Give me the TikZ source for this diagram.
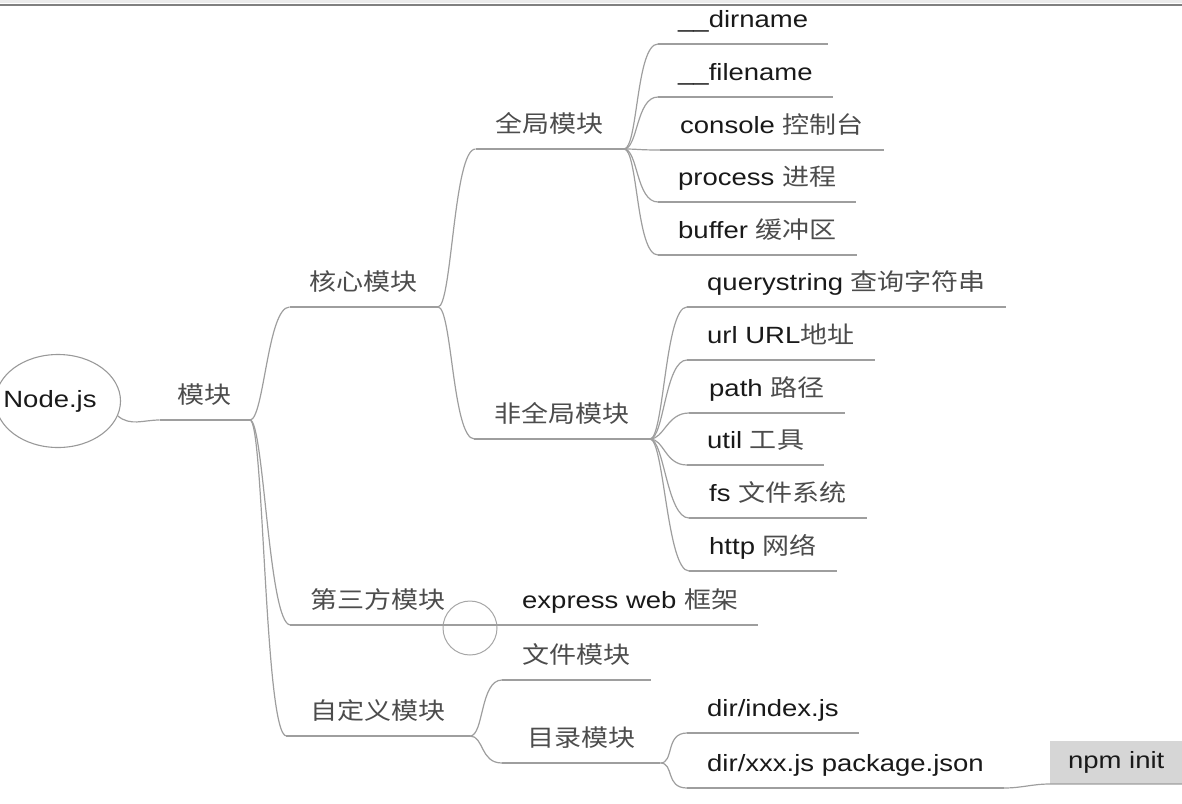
\documentclass[tikz,border=0pt]{standalone}
\usepackage{fontspec}
\setmainfont{Liberation Sans}[FakeStretch=1.17]
\newfontfamily\cjk{Noto Sans CJK SC}[FakeStretch=1.15]
\newcommand{\zh}[1]{{\cjk\color{black!70}#1}}
\usetikzlibrary{positioning, shapes.geometric}

\begin{document}
\begin{tikzpicture}[x=1pt, y=-1pt,
    edge/.style={draw=black!38, line width=1.2pt},
    fork/.style={to path={.. controls +(14,0) and +(-22,0) .. (\tikztotarget)}},
    leaf/.style={anchor=south west, inner xsep=20pt, inner ysep=10.5pt, text height=18pt, text depth=5.5pt,
        font=\fontsize{23.5}{27}\selectfont, text=black!90},
    hub/.style={leaf, anchor=south east},
    root/.style={ellipse, draw=black!40, line width=1.1pt, minimum width=125pt, minimum height=93pt,
        inner sep=0pt, font=\fontsize{23.5}{27}\selectfont, text=black!90}]
    \useasboundingbox (0,0) rectangle (1182,803);
    \fill[black!8] (0,0) rectangle (1182,3);
    \draw[black!50, line width=2pt] (0,5) -- (1182,5);

    \node[root] (nodejs) at (58,401) {\hspace*{-16pt}Node.js};
    \node[hub, inner xsep=18pt] (mk) at (250,420) {\zh{模块}};
    \node[hub] (hx) at (438,307) {\zh{核心模块}};
    \node[hub] (dsf) at (466,625) {\zh{第三方模块}};
    \node[hub, inner xsep=24pt] (zdy) at (470,736) {\zh{自定义模块}};
    \node[hub] (qj) at (624,149) {\zh{全局模块}};
    \node[hub] (fqj) at (650,439) {\zh{非全局模块}};
    % global modules
    \node[leaf] (dn) at (658,44) {\_\_dirname};
    \node[leaf] (fn) at (658,97) {\_\_filename};
    \node[leaf] (cs) at (660,150) {console \zh{控制台}};
    \node[leaf] (pr) at (658,202) {process \zh{进程}};
    \node[leaf] (bf) at (658,255) {buffer \zh{缓冲区}};
    % non-global modules
    \node[leaf] (qs) at (687,307) {querystring \zh{查询字符串}};
    \node[leaf] (url) at (687,360) {url URL\zh{地址}};
    \node[leaf] (pa) at (689,413) {path \zh{路径}};
    \node[leaf] (ut) at (687,465) {util \zh{工具}};
    \node[leaf] (fs) at (689,518) {fs \zh{文件系统}};
    \node[leaf] (ht) at (689,571) {http \zh{网络}};
    % third party
    \node[leaf] (ex) at (502,625) {express web \zh{框架}};
    % custom modules
    \node[leaf] (wj) at (502,680) {\zh{文件模块}};
    \node[leaf, minimum width=158pt] (ml) at (502,763) {\zh{目录模块}};
    \node[leaf] (di) at (687,733) {dir/index.js};
    \node[leaf] (dx) at (687,788) {dir/xxx.js package.json};
    \node[anchor=south west, fill=black!16, minimum width=132pt, minimum height=43pt,
        font=\fontsize{23.5}{27}\selectfont, text=black!90] (npm) at (1050,784) {npm init};
    \node[circle, draw=black!35, line width=1pt, minimum size=54pt, inner sep=0pt] (ring) at (470,628) {};

    \foreach \n in {mk,hx,dsf,zdy,qj,fqj,dn,fn,cs,pr,bf,qs,url,pa,ut,fs,ht,ex,wj,ml,di,dx} {
    \draw[edge] (\n.south west) -- (\n.south east);
    }
    \draw[edge] (nodejs.-14) to[out=-40, in=180] (mk.south west);
    \foreach \c in {hx,dsf,zdy} {
    \draw[edge] (mk.south east) to[fork] (\c.south west);
    }
    \foreach \c in {qj,fqj} {
    \draw[edge] (hx.south east) to[fork] (\c.south west);
    }
    \foreach \c in {dn,fn,cs,pr,bf} {
    \draw[edge] (qj.south east) to[fork] (\c.south west);
    }
    \foreach \c in {qs,url,pa,ut,fs,ht} {
    \draw[edge] (fqj.south east) to[fork] (\c.south west);
    }
    \foreach \c in {wj,ml} {
    \draw[edge] (zdy.south east) to[fork] (\c.south west);
    }
    \foreach \c in {di,dx} {
    \draw[edge] (ml.south east) to[fork] (\c.south west);
    }
    \draw[edge] (dsf.south east) -- (ex.south west);
    \draw[edge] (dx.south east) to[out=0, in=180] (npm.south west) -- (npm.south east);
\end{tikzpicture}
\end{document}
